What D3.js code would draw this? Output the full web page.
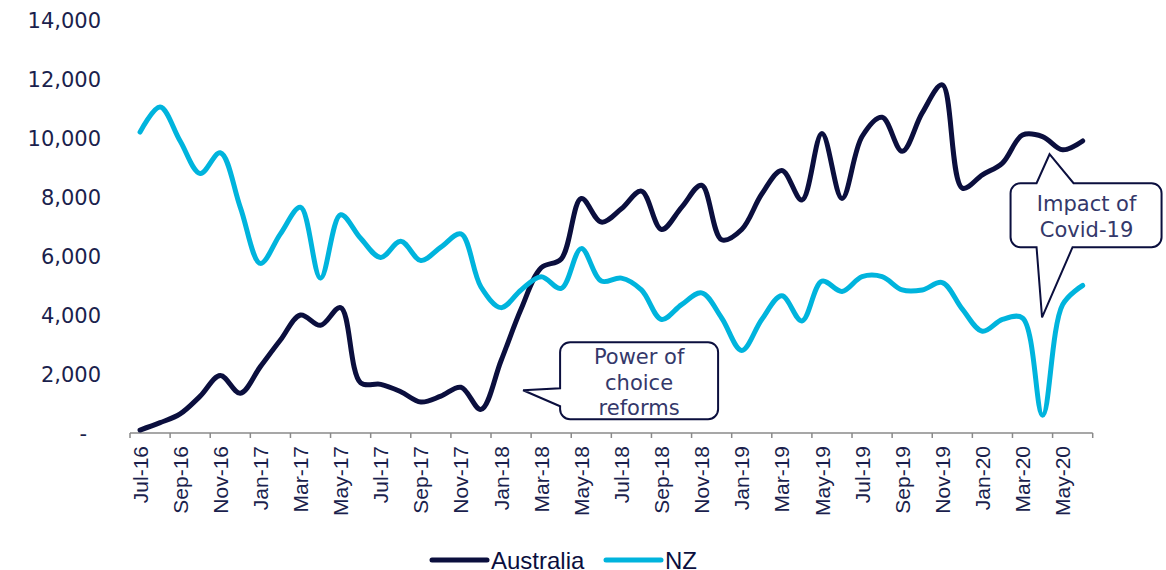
<!DOCTYPE html>
<html>
<head>
<meta charset="utf-8">
<script src="https://cdn.jsdelivr.net/npm/d3@7"></script>
<style>
  body { margin: 0; background: #fff; }
  svg { display: block; }
</style>
</head>
<body>
<div id="chart"></div>
<script>
// months shown on the x axis (one point per month)
var months = ["Jul-16","Aug-16","Sep-16","Oct-16","Nov-16","Dec-16",
  "Jan-17","Feb-17","Mar-17","Apr-17","May-17","Jun-17",
  "Jul-17","Aug-17","Sep-17","Oct-17","Nov-17","Dec-17",
  "Jan-18","Feb-18","Mar-18","Apr-18","May-18","Jun-18",
  "Jul-18","Aug-18","Sep-18","Oct-18","Nov-18","Dec-18",
  "Jan-19","Feb-19","Mar-19","Apr-19","May-19","Jun-19",
  "Jul-19","Aug-19","Sep-19","Oct-19","Nov-19","Dec-19",
  "Jan-20","Feb-20","Mar-20","Apr-20","May-20","Jun-20"];

var australia = [100,350,650,1250,1950,1350,2250,3150,4000,3650,4250,1700,
  1650,1400,1050,1250,1550,800,2450,4200,5600,5900,7950,7150,
  7600,8200,6900,7650,8400,6550,6900,8100,8900,7900,10150,7950,
  10050,10700,9550,10850,11800,8300,8750,9150,10100,10050,9600,9900];

var nz = [10200,11050,9900,8800,9500,7650,5750,6750,7650,5250,7400,6600,
  5950,6500,5850,6300,6750,4950,4250,4850,5300,4900,6250,5150,
  5250,4850,3850,4350,4750,3900,2800,3850,4650,3800,5150,4800,
  5300,5300,4850,4850,5100,4200,3450,3850,3900,600,4350,5000];

var yTicks = [0,2000,4000,6000,8000,10000,12000,14000];

var seriesNames = ["Australia", "NZ"];
var seriesColors = ["#0b0f3e", "#00b4dd"];

// callouts anchored to a month and a value
var notes = [
  {lines: ["Power of", "choice", "reforms"], month: "Feb-18", value: 1450},
  {lines: ["Impact of", "Covid-19"], month: "Apr-20", value: 9450, value2: 3920}
];

var W = 1166, H = 570;
var plotL = 130, plotR = 1092.7, plotT = 20, plotB = 433;
var navy = "#1b1f4d";

var svg = d3.select("#chart").append("svg")
  .attr("width", W)
  .attr("height", H);

var x = d3.scalePoint()
  .domain(months)
  .range([plotL, plotR])
  .padding(0.5);

var xEdge = d3.scaleLinear()
  .domain([0, months.length])
  .range([plotL, plotR]);

var y = d3.scaleLinear()
  .domain([0, 14000])
  .range([plotB, plotT]);

// y axis labels, no line
var yAxis = svg.append("g")
  .attr("transform", "translate(101,0)")
  .call(d3.axisLeft(y).tickValues(yTicks).tickSize(0).tickPadding(0)
    .tickFormat(function(d) { return d === 0 ? "-" : d3.format(",")(d); }));
yAxis.select(".domain").remove();
yAxis.selectAll("text")
  .attr("fill", navy)
  .attr("font-family", "DejaVu Sans, sans-serif")
  .attr("font-size", "21px")
  .attr("dy", "0.36em")
  .attr("x", function(d) { return d === 0 ? -14 : 0; });

// x axis line and ticks every 2 months
svg.append("line")
  .attr("x1", plotL).attr("x2", plotR)
  .attr("y1", plotB).attr("y2", plotB)
  .attr("stroke", "#8a8a8a")
  .attr("stroke-width", 1.5);

svg.selectAll(".xtick")
  .data(d3.range(0, months.length + 1, 2))
  .enter().append("line")
  .attr("class", "xtick")
  .attr("x1", function(d) { return xEdge(d); })
  .attr("x2", function(d) { return xEdge(d); })
  .attr("y1", plotB)
  .attr("y2", plotB + 5)
  .attr("stroke", "#8a8a8a")
  .attr("stroke-width", 1.5);

svg.selectAll(".xlab")
  .data(months.filter(function(d, i) { return i % 2 === 0; }))
  .enter().append("text")
  .attr("class", "xlab")
  .attr("transform", function(d) { return "translate(" + x(d) + "," + (plotB + 13) + ") rotate(-90)"; })
  .attr("text-anchor", "end")
  .attr("dy", "0.36em")
  .attr("fill", navy)
  .attr("font-family", "Liberation Sans, Arial, sans-serif")
  .attr("font-size", "21px")
  .text(function(d) { return d; });

// lines
var line = d3.line()
  .x(function(d, i) { return x(months[i]); })
  .y(function(d) { return y(d); })
  .curve(d3.curveCatmullRom.alpha(0.5));

[australia, nz].forEach(function(vals, k) {
  svg.append("path")
    .datum(vals)
    .attr("d", line)
    .attr("fill", "none")
    .attr("stroke", seriesColors[k])
    .attr("stroke-width", 5)
    .attr("stroke-linejoin", "round")
    .attr("stroke-linecap", "round");
});

// callout shape: rounded box with optional tails
function callout(bx, by, bw, bh, tails) {
  var r = 10, x0 = bx, y0 = by, x1 = bx + bw, y1 = by + bh;
  var p = d3.path();
  p.moveTo(x0 + r, y0);
  if (tails.top) {
    p.lineTo(x0 + tails.top.a, y0);
    p.lineTo(tails.top.px, tails.top.py);
    p.lineTo(x0 + tails.top.b, y0);
  }
  p.arcTo(x1, y0, x1, y1, r);
  p.arcTo(x1, y1, x0, y1, r);
  if (tails.bottom) {
    p.lineTo(x0 + tails.bottom.b, y1);
    p.lineTo(tails.bottom.px, tails.bottom.py);
    p.lineTo(x0 + tails.bottom.a, y1);
  }
  p.arcTo(x0, y1, x0, y0, r);
  if (tails.left) {
    p.lineTo(x0, y0 + tails.left.b);
    p.lineTo(tails.left.px, tails.left.py);
    p.lineTo(x0, y0 + tails.left.a);
  }
  p.arcTo(x0, y0, x1, y0, r);
  p.closePath();
  return p.toString();
}

function drawNote(n, path, cx, firstBase) {
  svg.append("path")
    .attr("d", path)
    .attr("fill", "#fff")
    .attr("stroke", "#0b0f3e")
    .attr("stroke-width", 2)
    .attr("stroke-linejoin", "miter");
  svg.append("g").selectAll("text")
    .data(n.lines)
    .enter().append("text")
    .attr("x", cx)
    .attr("y", function(d, i) { return firstBase + i * 25.5; })
    .attr("text-anchor", "middle")
    .attr("fill", "#34386a")
    .attr("font-family", "DejaVu Sans, sans-serif")
    .attr("font-size", "21px")
    .text(function(d) { return d; });
}

// power of choice
var n1 = notes[0];
var ax = x(n1.month) + 2, ay = y(n1.value);
var b1x = ax + 37, b1y = ay - 48;
drawNote(n1, callout(b1x, b1y, 158, 77, {left: {a: 46, b: 64, px: ax, py: ay}}),
  b1x + 79, b1y + 22);

// covid
var n2 = notes[1];
var cx2 = x(n2.month) + 7, cy2 = y(n2.value), cy3 = y(n2.value2);
var b2x = cx2 - 39, b2y = cy2 + 29;
drawNote(n2, callout(b2x, b2y, 151, 64, {
  top: {a: 26, b: 63, px: cx2, py: cy2},
  bottom: {a: 26, b: 62, px: cx2 - 7.5, py: cy3}
}), b2x + 76, b2y + 28);

// legend
var legX = [432, 606];
seriesNames.forEach(function(name, k) {
  svg.append("line")
    .attr("x1", legX[k]).attr("x2", legX[k] + 55)
    .attr("y1", 560).attr("y2", 560)
    .attr("stroke", seriesColors[k])
    .attr("stroke-width", 5)
    .attr("stroke-linecap", "round");
  svg.append("text")
    .attr("x", legX[k] + 59)
    .attr("y", 560)
    .attr("dy", "0.36em")
    .attr("fill", "#0b0f3e")
    .attr("font-family", "Liberation Sans, Arial, sans-serif")
    .attr("font-size", "24px")
    .text(name);
});
</script>
</body>
</html>
